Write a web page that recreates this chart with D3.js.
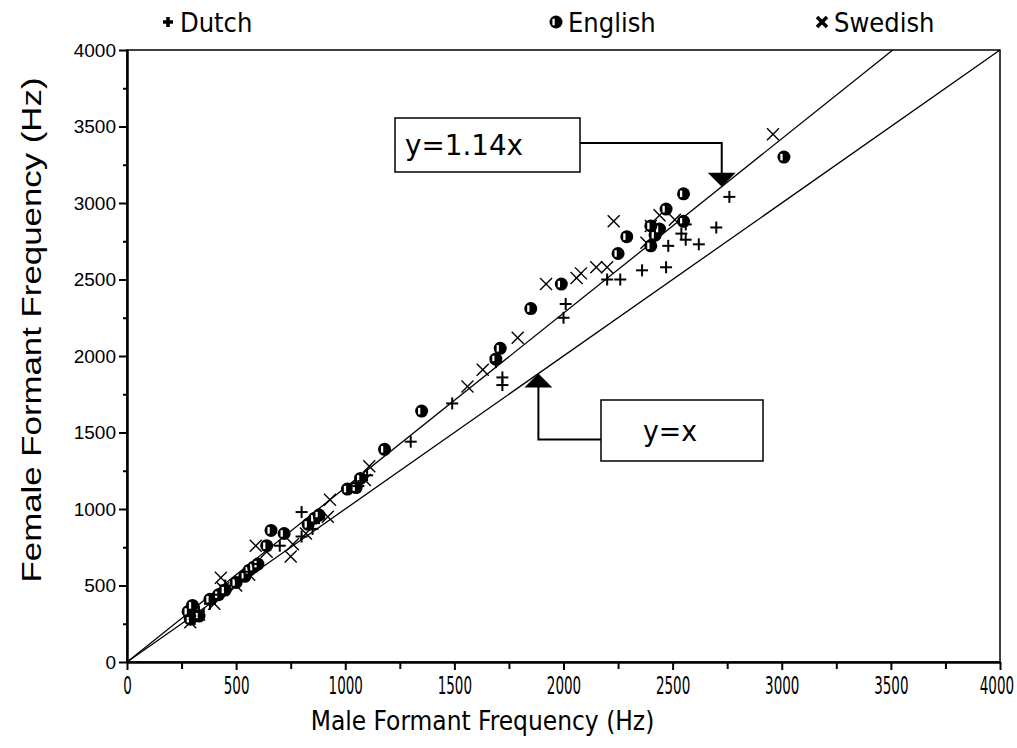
<!DOCTYPE html>
<html>
<head>
<meta charset="utf-8">
<script src="https://cdn.jsdelivr.net/npm/d3@7"></script>
<style>
  body { margin: 0; background: #fff; }
  svg { display: block; }
</style>
</head>
<body>
<div id="chart"></div>
<script>
// Data (Hz)
const dutchMale =     [290, 310, 330, 380, 420, 450, 520, 560, 600, 700, 800, 800, 850, 880, 1060, 1100, 1300, 1490, 1690, 1720, 1720, 2000, 2010, 2200, 2260, 2360, 2470, 2480, 2540, 2560, 2560, 2620, 2700, 2760];
const dutchFemale =   [300, 280, 330, 380, 440, 500, 540, 590, 640, 760, 980, 820, 870, 940, 1150, 1220, 1440, 1690, 1960, 1860, 1810, 2250, 2340, 2500, 2500, 2560, 2580, 2720, 2800, 2860, 2760, 2730, 2840, 3040];
const englishMale =   [280, 300, 290, 330, 380, 420, 450, 500, 540, 560, 580, 600, 640, 660, 720, 830, 860, 880, 1010, 1050, 1070, 1180, 1350, 1690, 1710, 1850, 1990, 2250, 2290, 2400, 2420, 2440, 2470, 2550, 2550, 2400, 3010];
const englishFemale = [330, 370, 280, 300, 410, 440, 470, 520, 560, 600, 620, 640, 760, 860, 840, 900, 940, 960, 1130, 1140, 1200, 1390, 1640, 1980, 2050, 2310, 2470, 2670, 2780, 2720, 2790, 2830, 2960, 3060, 2880, 2850, 3300];
const swedishMale =   [290, 330, 400, 430, 440, 500, 560, 590, 640, 750, 760, 820, 920, 930, 1090, 1110, 1560, 1630, 1790, 1920, 2060, 2080, 2150, 2200, 2230, 2380, 2400, 2440, 2510, 2960];
const swedishFemale = [260, 310, 380, 550, 480, 500, 570, 760, 720, 690, 770, 840, 950, 1060, 1190, 1280, 1800, 1910, 2120, 2470, 2510, 2540, 2580, 2580, 2880, 2740, 2850, 2920, 2890, 3450];

const languages = ["Dutch", "English", "Swedish"];
const majorTicks = [0, 500, 1000, 1500, 2000, 2500, 3000, 3500, 4000];
const minorTicks = [250, 750, 1250, 1750, 2250, 2750, 3250, 3750];
const slopes = [1, 1.14];

const margin = { top: 50, right: 17, bottom: 86, left: 127 };
const width = 1017 - margin.left - margin.right;
const height = 748 - margin.top - margin.bottom;

const svg = d3.select("#chart")
  .append("svg")
  .attr("width", 1017)
  .attr("height", 748);

const g = svg.append("g")
  .attr("transform", `translate(${margin.left},${margin.top})`);

const x = d3.scaleLinear().domain([0, 4000]).range([0, width]);
const y = d3.scaleLinear().domain([0, 4000]).range([height, 0]);

const narrow = "'DejaVu Sans Condensed', 'DejaVu Sans', sans-serif";
const plain = "'Liberation Sans', Arial, sans-serif";

// frame
g.append("rect")
  .attr("width", width)
  .attr("height", height)
  .attr("fill", "none")
  .attr("stroke", "#000")
  .attr("stroke-width", 1.5);

// x axis
const xAxis = g.append("g")
  .attr("transform", `translate(0,${height})`)
  .call(d3.axisBottom(x).tickValues(majorTicks).tickFormat(d3.format("d"))
    .tickSize(8).tickSizeOuter(0).tickPadding(6))
  .call(a => a.select(".domain").attr("stroke-width", 2.5));
// narrow the tick labels like the original bitmap font
xAxis.selectAll("text")
  .style("font-family", narrow)
  .style("font-size", "25px")
  .attr("transform", "scale(0.6,1)")
  .attr("fill", "#000");
xAxis.selectAll("text").filter(d => d === 4000).attr("dx", -6);
xAxis.selectAll(".tick line").attr("stroke-width", 2);
g.append("g")
  .attr("transform", `translate(0,${height})`)
  .call(d3.axisBottom(x).tickValues(minorTicks).tickSize(7).tickFormat(""))
  .call(a => a.select(".domain").remove())
  .selectAll("line").attr("stroke-width", 2);

// y axis
const yAxis = g.append("g")
  .call(d3.axisLeft(y).tickValues(majorTicks).tickFormat(d3.format("d"))
    .tickSize(8).tickSizeOuter(0).tickPadding(3))
  .call(a => a.select(".domain").attr("stroke-width", 2.5));
yAxis.selectAll("text")
  .style("font-family", plain)
  .style("font-size", "19px")
  .attr("fill", "#000");
yAxis.selectAll(".tick line").attr("stroke-width", 2);
g.append("g")
  .call(d3.axisLeft(y).tickValues(minorTicks).tickSize(4).tickFormat(""))
  .call(a => a.select(".domain").remove())
  .selectAll("line").attr("stroke-width", 2);

// axis titles
g.append("text")
  .attr("x", width / 2 - 81)
  .attr("y", height + 68)
  .attr("text-anchor", "middle")
  .style("font-family", narrow)
  .style("font-size", "26px")
  .text("Male Formant Frequency (Hz)");

g.append("text")
  .attr("transform", "rotate(-90)")
  .attr("x", -height / 2 + 26)
  .attr("y", -86)
  .attr("text-anchor", "middle")
  .attr("textLength", 505)
  .attr("lengthAdjust", "spacingAndGlyphs")
  .style("font-family", plain)
  .style("font-size", "27px")
  .text("Female Formant Frequency (Hz)");

// reference lines y = x and y = 1.14x
const plot = g.append("g");
plot.append("clipPath").attr("id", "clip")
  .append("rect").attr("width", width).attr("height", height);
slopes.forEach(k => {
  plot.append("line")
    .attr("clip-path", "url(#clip)")
    .attr("x1", x(0)).attr("y1", y(0))
    .attr("x2", x(4000)).attr("y2", y(4000 * k))
    .attr("stroke", "#000")
    .attr("stroke-width", 1.3);
});

// markers
function drawPlus(sel, s, sw) {
  sel.append("line").attr("x1", -s).attr("x2", s).attr("y1", 0).attr("y2", 0)
    .attr("stroke", "#000").attr("stroke-width", sw);
  sel.append("line").attr("x1", 0).attr("x2", 0).attr("y1", -s).attr("y2", s)
    .attr("stroke", "#000").attr("stroke-width", sw);
}
function drawCross(sel, s, sw) {
  sel.append("line").attr("x1", -s).attr("x2", s).attr("y1", -s).attr("y2", s)
    .attr("stroke", "#000").attr("stroke-width", sw);
  sel.append("line").attr("x1", -s).attr("x2", s).attr("y1", s).attr("y2", -s)
    .attr("stroke", "#000").attr("stroke-width", sw);
}
function drawHalf(sel, r) {
  sel.append("circle").attr("r", r).attr("fill", "#000");
  sel.append("rect").attr("x", -r * 0.55).attr("y", -r * 0.5)
    .attr("width", r * 0.35).attr("height", r).attr("fill", "#fff");
}

const dutch = dutchMale.map((m, i) => ({ m, f: dutchFemale[i] }));
const english = englishMale.map((m, i) => ({ m, f: englishFemale[i] }));
const swedish = swedishMale.map((m, i) => ({ m, f: swedishFemale[i] }));

plot.selectAll(".sw").data(swedish).join("g")
  .attr("class", "sw")
  .attr("transform", d => `translate(${x(d.m)},${y(d.f)})`)
  .each(function () { drawCross(d3.select(this), 6, 1.4); });

plot.selectAll(".en").data(english).join("g")
  .attr("class", "en")
  .attr("transform", d => `translate(${x(d.m)},${y(d.f)})`)
  .each(function () { drawHalf(d3.select(this), 6.5); });

plot.selectAll(".du").data(dutch).join("g")
  .attr("class", "du")
  .attr("transform", d => `translate(${x(d.m)},${y(d.f)})`)
  .each(function () { drawPlus(d3.select(this), 6, 2); });

// annotation boxes with arrows
function annotate(label, bx, by, bw, bh, tipX, k, side, tw) {
  const tx = x(tipX), ty = y(tipX * k);
  const a = g.append("g");
  a.append("rect")
    .attr("x", bx).attr("y", by).attr("width", bw).attr("height", bh)
    .attr("fill", "#fff").attr("stroke", "#000").attr("stroke-width", 1.5);
  a.append("text")
    .attr("x", side === "right" ? bx + 10 : bx + 42)
    .attr("y", by + bh / 2 + 10)
    .attr("textLength", tw)
    .attr("lengthAdjust", "spacingAndGlyphs")
    .style("font-family", narrow)
    .style("font-size", "28px")
    .text(label);
  const ay = by + bh / 2 - (side === "right" ? 2 : -9);
  const startX = side === "right" ? bx + bw : bx;
  const dir = ty > ay ? 1 : -1;
  a.append("path")
    .attr("d", `M${startX},${ay}H${tx}V${ty - dir * 13}`)
    .attr("fill", "none").attr("stroke", "#000").attr("stroke-width", 2);
  a.append("path")
    .attr("d", `M${tx - 14},${ty - dir * 14}L${tx + 14},${ty - dir * 14}L${tx},${ty}Z`)
    .attr("fill", "#000");
}
annotate("y=1.14x", 268, 68, 185, 54, 2725, 1.14, "right", 118);
annotate("y=x", 474, 350, 162, 61, 1885, 1, "left", 54);

// legend
const legend = svg.append("g");
const legendX = [168, 556, 822];
languages.forEach((name, i) => {
  const item = legend.append("g").attr("transform", `translate(${legendX[i]},22)`);
  if (name === "Dutch") drawPlus(item, 5, 3.5);
  if (name === "English") drawHalf(item, 6.5);
  if (name === "Swedish") drawCross(item, 5, 3.5);
  item.append("text")
    .attr("x", 12)
    .attr("y", 10)
    .style("font-family", narrow)
    .style("font-size", "27px")
    .text(name);
});
</script>
</body>
</html>
